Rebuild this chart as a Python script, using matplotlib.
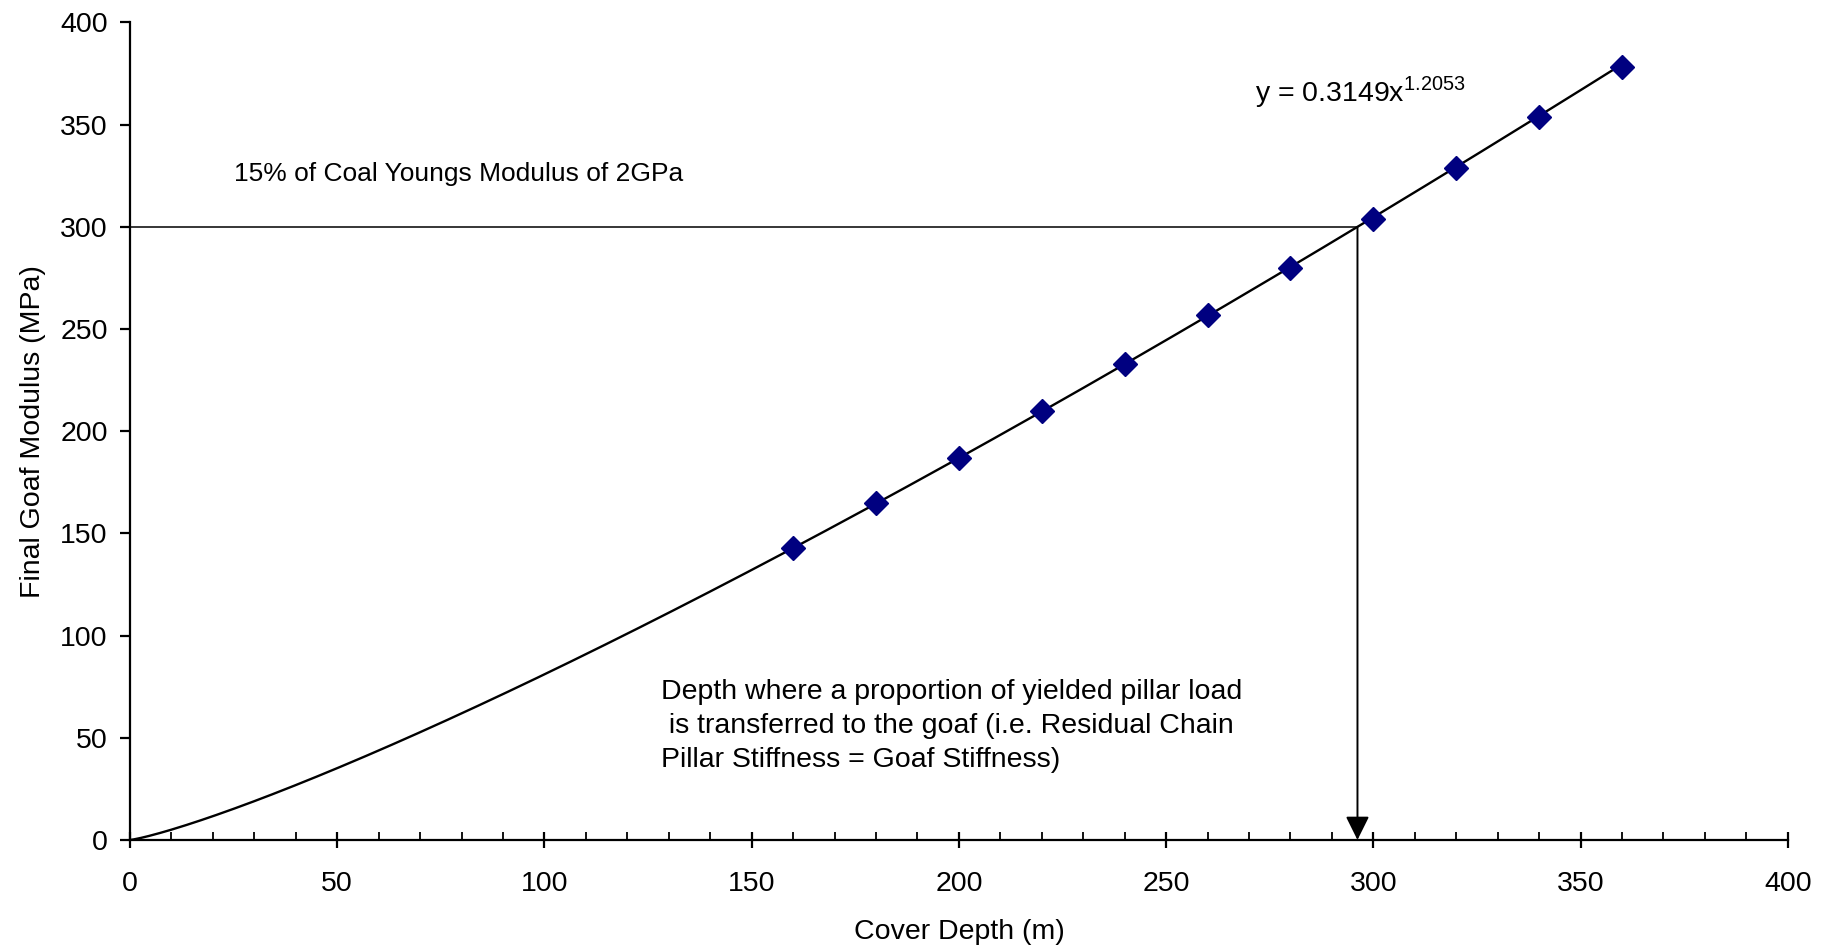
import numpy as np
import matplotlib
matplotlib.use('Agg')
import matplotlib.pyplot as plt

plt.rcParams['font.family'] = ['Liberation Sans', 'DejaVu Sans']

# data
cover_depth = [160, 180, 200, 220, 240, 260, 280, 300, 320, 340, 360]
goaf_modulus = [143, 165, 187, 210, 233, 257, 280, 304, 329, 354, 378]

# power trendline as printed on the chart
coef_a = 0.3149
coef_b = 1.2053
target_modulus = 300.0

x_ticks = [0, 50, 100, 150, 200, 250, 300, 350, 400]
y_ticks = [0, 50, 100, 150, 200, 250, 300, 350, 400]

fs = 20.5

fig = plt.figure(figsize=(18.34, 9.49), dpi=100)
ax = fig.add_axes([0.0709, 0.1149, 0.9039, 0.8614])

xt = np.linspace(0, 360, 400)
ax.plot(xt, coef_a * xt ** coef_b, color='black', lw=1.7, zorder=2)
ax.plot(cover_depth, goaf_modulus, linestyle='none', marker='D', ms=12,
        color='#000080', zorder=3)

# where the trendline hits 300 MPa
x_hit = (target_modulus / coef_a) ** (1.0 / coef_b)
ax.plot([0, x_hit], [target_modulus, target_modulus], color='black', lw=1.1)
ax.annotate('', xy=(x_hit, 0), xytext=(x_hit, target_modulus),
            arrowprops=dict(arrowstyle='-|>,head_length=1.45,head_width=0.72',
                            color='black', lw=1.4, shrinkA=0, shrinkB=0))

ax.text(25, 326, '15% of Coal Youngs Modulus of 2GPa', fontsize=19,
        va='center', ha='left')
ax.text(271.5, 366, r'y = 0.3149x$^{\mathregular{1.2053}}$', fontsize=fs,
        va='center', ha='left')
ax.text(128, 56, 'Depth where a proportion of yielded pillar load\n'
        ' is transferred to the goaf (i.e. Residual Chain\n'
        'Pillar Stiffness = Goaf Stiffness)', fontsize=fs,
        va='center', ha='left', linespacing=1.4)

ax.set_xlim(0, 400)
ax.set_ylim(0, 400)
ax.set_xticks(x_ticks)
ax.set_yticks(y_ticks)
ax.set_xticks(np.arange(0, 401, 10), minor=True)
for s in ['top', 'right']:
    ax.spines[s].set_visible(False)
for s in ['left', 'bottom']:
    ax.spines[s].set_linewidth(1.6)

ax.tick_params(axis='x', which='major', direction='inout', length=12,
               width=1.6, labelsize=fs, pad=16)
ax.tick_params(axis='x', which='minor', direction='in', length=6, width=1.3)
ax.tick_params(axis='y', which='major', direction='out', length=7,
               width=1.6, labelsize=fs, pad=9)

ax.set_xlabel('Cover Depth (m)', fontsize=fs, labelpad=16)
ax.set_ylabel('Final Goaf Modulus (MPa)', fontsize=fs, labelpad=10)

plt.savefig('out.png', dpi=100)
